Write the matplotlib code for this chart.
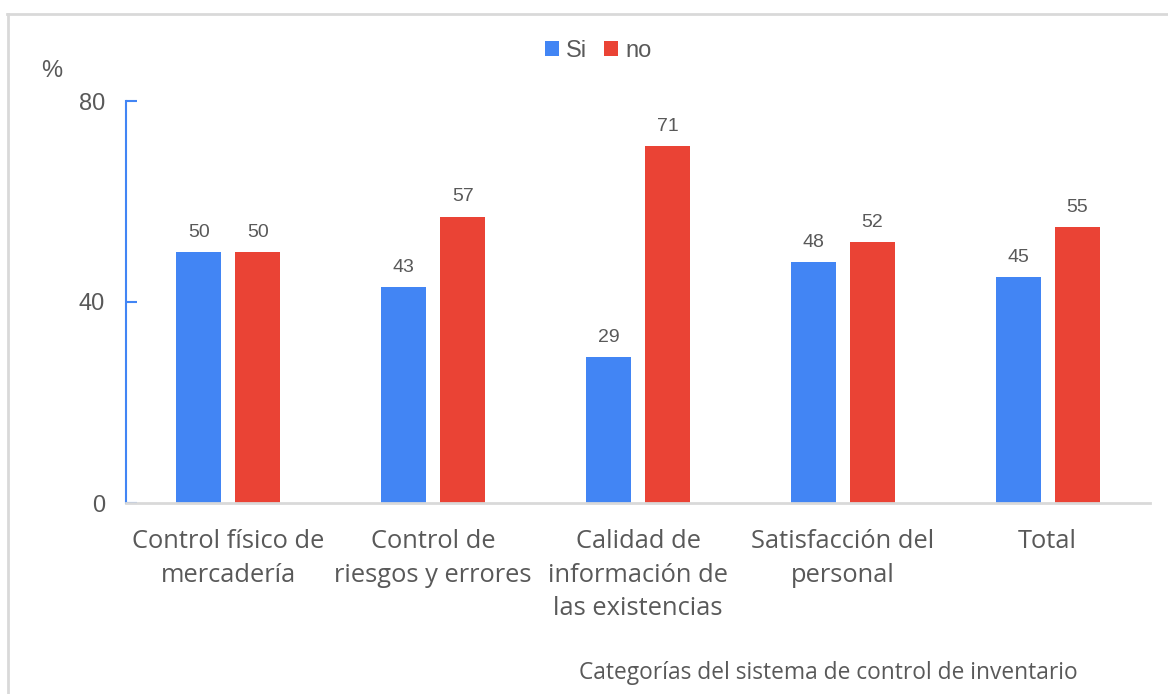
import matplotlib.pyplot as plt
import numpy as np
from matplotlib.lines import Line2D

# Survey results per inventory-control category (percent)
categories = ['Control físico de\nmercadería', 'Control de\nriesgos y errores',
              'Calidad de\ninformación de\nlas existencias', 'Satisfacción del\npersonal', 'Total']
si_values = [50, 43, 29, 48, 45]
no_values = [50, 57, 71, 52, 55]
y_ticks = [0, 40, 80]

BLUE = '#4285F4'
RED = '#EA4335'
GRAY_TEXT = '#595959'
GRAY_LINE = '#d9d9d9'

fig = plt.figure(figsize=(11.68, 6.94), dpi=100)
ax = fig.add_axes([126 / 1168, 1 - 503 / 694, 1024 / 1168, 402 / 694])

x = np.arange(len(categories))
width = 0.22
offset = 0.144
b1 = ax.bar(x - offset, si_values, width, color=BLUE, label='Si')
b2 = ax.bar(x + offset, no_values, width, color=RED, label='no')
for bars in (b1, b2):
    ax.bar_label(bars, padding=8, fontsize=14, color=GRAY_TEXT, family='Liberation Sans')

ax.set_xlim(-0.5, len(categories) - 0.5)
ax.set_ylim(0, 80)
ax.set_yticks(y_ticks)
ax.set_yticklabels([str(t) for t in y_ticks], fontsize=17, color=GRAY_TEXT, family='Liberation Sans')
ax.tick_params(axis='y', direction='in', length=8, width=1.5, color=BLUE, pad=15)
ax.set_xticks(x)
ax.set_xticklabels(categories, fontsize=18.4, color=GRAY_TEXT, family='Open Sans', linespacing=1.45)
ax.tick_params(axis='x', length=0, pad=19)

for side in ('top', 'right'):
    ax.spines[side].set_visible(False)
ax.spines['left'].set_color(BLUE)
ax.spines['left'].set_linewidth(1.5)
ax.spines['bottom'].set_color(GRAY_LINE)
ax.spines['bottom'].set_linewidth(2)

leg = ax.legend(loc='center', bbox_to_anchor=(598 / 1168, 1 - 51 / 694), bbox_transform=fig.transFigure,
                ncol=2, frameon=False, handlelength=0.6, handleheight=0.6, handletextpad=0.3,
                columnspacing=0.7, prop={'family': 'Liberation Sans', 'size': 17})
for t in leg.get_texts():
    t.set_color(GRAY_TEXT)

fig.text(52 / 1168, 1 - 71 / 694, '%', fontsize=17, color=GRAY_TEXT, family='Liberation Sans',
         ha='center', va='center')
fig.text(828 / 1168, 1 - 673 / 694, 'Categorías del sistema de control de inventario', fontsize=16.4,
         color=GRAY_TEXT, family='Open Sans', ha='center', va='center')

# light frame around the chart area
fig.add_artist(Line2D([8 / 1168, 8 / 1168], [0, 1 - 14 / 694], color=GRAY_LINE, lw=2))
fig.add_artist(Line2D([7 / 1168, 1], [1 - 14 / 694, 1 - 14 / 694], color=GRAY_LINE, lw=2))

fig.savefig('out.png', dpi=100)
